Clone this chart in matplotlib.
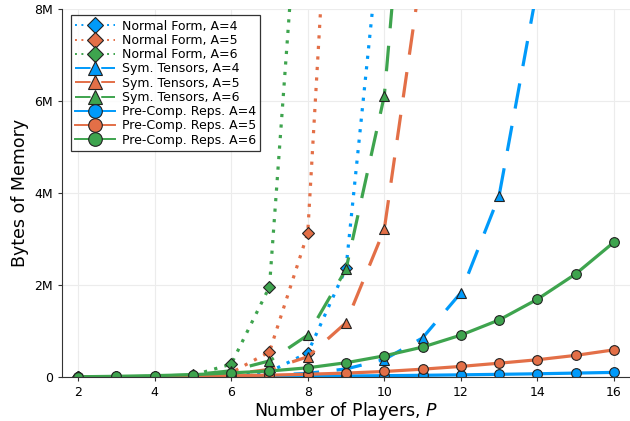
import numpy as np
import matplotlib
matplotlib.use("Agg")
import matplotlib.pyplot as plt

# number of players
players = list(range(2, 17))

# bytes of memory (values above 8M only set the line direction)
normal_a4 = [32, 192, 1024, 5120, 24576, 114688, 524288, 2359296, 10485760]
normal_a5 = [50, 375, 2500, 15625, 93750, 546875, 3125000, 17578125]
normal_a6 = [72, 648, 5184, 38880, 279936, 1959552, 13436928]

sym_a4 = [600, 1500, 3500, 8000, 17000, 37000, 80000, 175000, 380000,
          850000, 1830000, 3940000, 8470000]
sym_a5 = [150, 900, 4000, 15000, 60000, 165000, 440000, 1180000, 3210000, 9000000]
sym_a6 = [400, 3000, 15000, 50000, 135000, 350000, 910000, 2340000, 6110000, 15700000]

pre_a4 = [1000, 2000, 3000, 5000, 8000, 12000, 16000, 22000, 29000, 37000,
          47000, 58000, 70000, 85000, 100000]
pre_a5 = [2000, 4000, 8000, 15000, 25000, 40000, 60000, 85000, 120000, 170000,
          230000, 300000, 375000, 470000, 590000]
pre_a6 = [5000, 15000, 30000, 50000, 90000, 130000, 200000, 310000, 460000, 650000,
          910000, 1240000, 1690000, 2240000, 2930000]

blue, orange, green = "#009AFA", "#E36F47", "#3EA44E"

fig = plt.figure(figsize=(6.3, 4.21), dpi=100)
ax = fig.add_axes([62 / 630, 44 / 421, 568 / 630, 368 / 421])

lw = 2.3
dot = (0, (1, 2.3))
dash = (0, (8, 5.5))

series = [
    (normal_a4, blue, dot, "D", "Normal Form, A=4"),
    (normal_a5, orange, dot, "D", "Normal Form, A=5"),
    (normal_a6, green, dot, "D", "Normal Form, A=6"),
    (sym_a4, blue, dash, "^", "Sym. Tensors, A=4"),
    (sym_a5, orange, dash, "^", "Sym. Tensors, A=5"),
    (sym_a6, green, dash, "^", "Sym. Tensors, A=6"),
    (pre_a4, blue, "-", "o", "Pre-Comp. Reps. A=4"),
    (pre_a5, orange, "-", "o", "Pre-Comp. Reps. A=5"),
    (pre_a6, green, "-", "o", "Pre-Comp. Reps. A=6"),
]

for vals, col, ls, mk, lab in series:
    x = players[:len(vals)]
    ms = 6 if mk == "D" else 7
    ax.plot(x, vals, color=col, linestyle=ls, linewidth=lw, marker=mk,
            markersize=ms, markeredgecolor="#222222", markeredgewidth=0.8,
            markerfacecolor=col, label=lab)

ax.set_xlim(1.58, 16.42)
ax.set_ylim(0, 8e6)
ax.set_xticks(range(2, 17, 2))
ax.set_yticks([0, 2e6, 4e6, 6e6, 8e6])
ax.set_yticklabels(["0", "2M", "4M", "6M", "8M"])
ax.tick_params(labelsize=9, length=3, color="#333333")
ax.grid(True, color="#ececec", linewidth=0.8)
ax.set_axisbelow(True)
for s in ["top", "right"]:
    ax.spines[s].set_visible(False)
for s in ["left", "bottom"]:
    ax.spines[s].set_color("#333333")

ax.set_xlabel("Number of Players, $P$", fontsize=12.5, labelpad=1)
ax.set_ylabel("Bytes of Memory", fontsize=12.5, labelpad=4)

leg = ax.legend(loc="upper left", fontsize=9, frameon=True, fancybox=False,
                edgecolor="black", markerscale=1.4, handlelength=3.2,
                handletextpad=0.5, labelspacing=0.1, borderpad=0.35,
                bbox_to_anchor=(0.005, 1.0))
leg.get_frame().set_linewidth(0.9)
# legend lines are drawn thinner than the plotted ones
for h in leg.legend_handles:
    h.set_linewidth(1.4)

fig.savefig("out.png", dpi=100)
